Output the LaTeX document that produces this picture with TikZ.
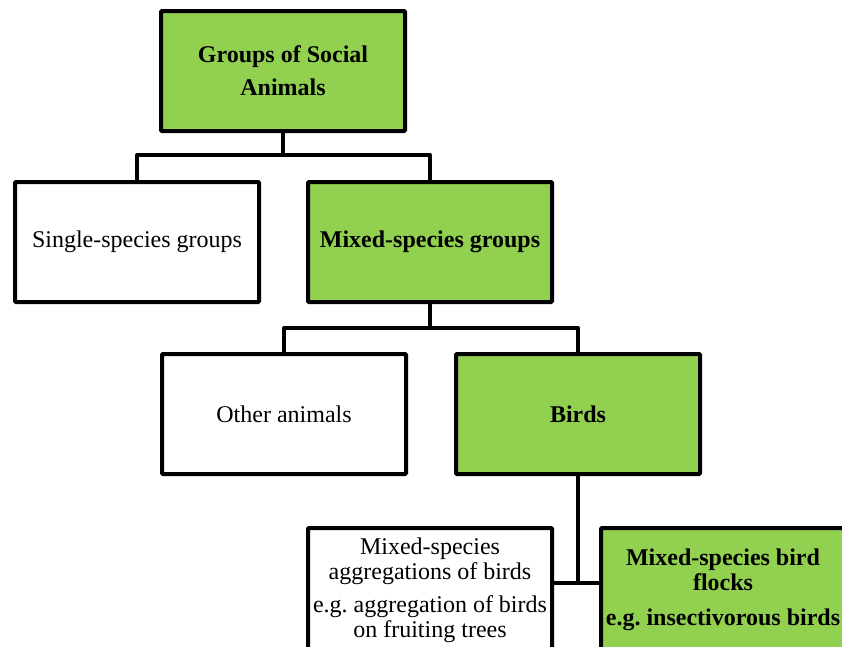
\documentclass[tikz,border=0pt]{standalone}
\usepackage{fontspec}
\setmainfont{Liberation Serif}
\usepackage{xcolor}
\usepackage{tikz}
\usetikzlibrary{calc,positioning}
\definecolor{leafgreen}{HTML}{92D050}
\frenchspacing

\begin{document}
\begin{tikzpicture}[x=1pt,y=-1pt,
            box/.style={draw=black,line width=4pt,rounded corners=1pt,minimum width=244pt,minimum height=120pt,inner sep=0pt,align=center,font=\fontsize{24}{25}\selectfont},
            greenbox/.style={box,fill=leafgreen,font=\fontsize{24}{25}\selectfont\bfseries},
            link/.style={draw=black,line width=4pt,line join=round}]
            \useasboundingbox (0,0) rectangle (842,646);
            \clip (0,0) rectangle (842,646);
            % top level
            \node [greenbox] (social) at (283,71) {Groups of Social\\[8pt]Animals};
            \node [box] (single) at (137,242) {Single-species groups};
            \node [greenbox] (mixed) at (430,242) {Mixed-species groups};
            % second level
            \node [box] (other) at (284,414) {Other animals};
            \node [greenbox] (birds) at (578,414) {Birds};
            % bottom level (cut off by the page edge)
            \node [box,minimum height=124pt] (aggr) at (430,590) {Mixed-species\\aggregations of birds\\[8pt]e.g. aggregation of birds\\on fruiting trees};
            \node [greenbox,minimum height=124pt] (flocks) at (723,590) {Mixed-species bird\\flocks\\[10pt]e.g. insectivorous birds};
            % connectors
            \coordinate (j1) at (283,155);
            \coordinate (j2) at (430,328);
            \coordinate (j3) at (578,583);
            \draw [link] (social.south) -- (j1);
            \draw [link] (single.north) |- (j1) -| (mixed.north);
            \draw [link] (mixed.south) -- (j2);
            \draw [link] (other.north) |- (j2) -| (birds.north);
            \draw [link] (birds.south) -- (j3);
            \draw [link] (aggr.east |- j3) -- (flocks.west |- j3);
\end{tikzpicture}
\end{document}
